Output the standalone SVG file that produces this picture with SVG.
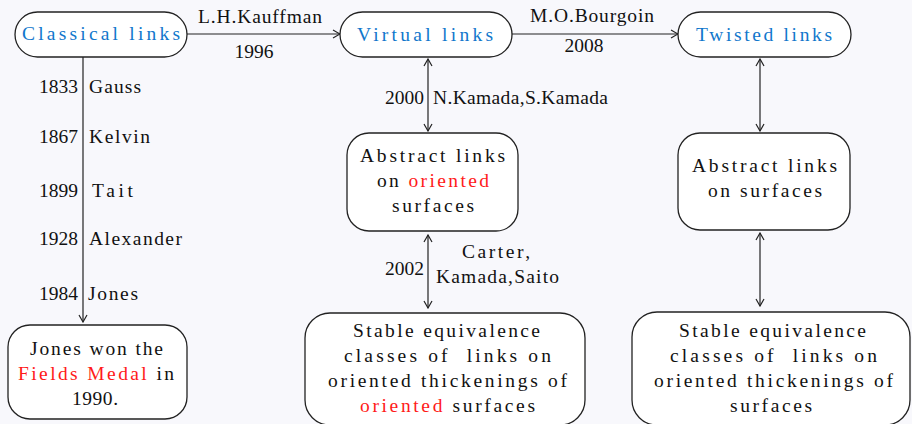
<svg xmlns="http://www.w3.org/2000/svg" width="912" height="424" viewBox="0 0 912 424">
<style>
text{font-family:"Liberation Serif","DejaVu Serif",serif;font-size:19.5px;fill:#111;white-space:pre}
.c{text-anchor:middle}
.r{text-anchor:end}
.blue{fill:#1177cc}
.red{fill:#ff1a1a}
.box{fill:#ffffff;stroke:#222;stroke-width:1.3}
.ln{stroke:#222;stroke-width:1.2;fill:none}
</style>
<defs>
<marker id="ah" viewBox="0 0 10 10" refX="9" refY="5" markerWidth="10" markerHeight="10" markerUnits="userSpaceOnUse" orient="auto-start-reverse">
<path d="M2,1 L9,5 L2,9" fill="none" stroke="#222" stroke-width="1.2"/>
</marker>
</defs>
<rect width="912" height="424" fill="#f8f8fc"/>
<g id="connectors">
<line class="ln" x1="187" y1="34" x2="340" y2="34" marker-end="url(#ah)"/>
<line class="ln" x1="512" y1="34" x2="678" y2="34" marker-end="url(#ah)"/>
<line class="ln" x1="83" y1="57" x2="83" y2="322" marker-end="url(#ah)"/>
<line class="ln" x1="428" y1="59" x2="428" y2="131" marker-start="url(#ah)" marker-end="url(#ah)"/>
<line class="ln" x1="428" y1="235" x2="428" y2="308" marker-start="url(#ah)" marker-end="url(#ah)"/>
<line class="ln" x1="760" y1="59" x2="760" y2="131" marker-start="url(#ah)" marker-end="url(#ah)"/>
<line class="ln" x1="760" y1="233" x2="760" y2="306" marker-start="url(#ah)" marker-end="url(#ah)"/>
<text x="198" y="23" textLength="124" lengthAdjust="spacing">L.H.Kauffman</text>
<text class="c" x="254" y="58">1996</text>
<text x="530" y="22" textLength="124" lengthAdjust="spacing">M.O.Bourgoin</text>
<text class="c" x="584" y="52">2008</text>
<text class="r" x="78" y="93">1833</text><text x="89" y="93" textLength="52" lengthAdjust="spacing">Gauss</text>
<text class="r" x="78" y="143">1867</text><text x="89" y="143" textLength="61" lengthAdjust="spacing">Kelvin</text>
<text class="r" x="78" y="197">1899</text><text x="92" y="197" textLength="41" lengthAdjust="spacing">Tait</text>
<text class="r" x="78" y="245">1928</text><text x="89" y="245" textLength="93" lengthAdjust="spacing">Alexander</text>
<text class="r" x="78" y="300">1984</text><text x="88" y="300" textLength="50" lengthAdjust="spacing">Jones</text>
<text class="r" x="424" y="104">2000</text><text x="433" y="104" textLength="175" lengthAdjust="spacing">N.Kamada,S.Kamada</text>
<text class="r" x="424" y="275">2002</text>
<text x="462" y="258" textLength="68" lengthAdjust="spacing">Carter,</text>
<text x="436" y="283" textLength="123" lengthAdjust="spacing">Kamada,Saito</text>
</g>
<g id="classical">
<rect class="box" x="15" y="12" width="172" height="45" rx="22.5"/>
<text class="blue" x="22" y="40" textLength="158" lengthAdjust="spacing">Classical links</text>
</g>
<g id="virtual">
<rect class="box" x="340" y="12" width="172" height="45" rx="22.5"/>
<text class="blue" x="357" y="41" textLength="136" lengthAdjust="spacing">Virtual links</text>
</g>
<g id="twisted">
<rect class="box" x="678" y="12" width="173" height="45" rx="22.5"/>
<text class="blue" x="696" y="41" textLength="136" lengthAdjust="spacing">Twisted links</text>
</g>
<g id="jones">
<rect class="box" x="8" y="325" width="179" height="94" rx="22"/>
<text x="30" y="355" textLength="133" lengthAdjust="spacing">Jones won the</text>
<text x="18" y="380" textLength="156" lengthAdjust="spacing"><tspan class="red">Fields Medal</tspan> in</text>
<text x="72" y="405" textLength="46" lengthAdjust="spacing">1990.</text>
</g>
<g id="abstract-oriented">
<rect class="box" x="347" y="133" width="171" height="98" rx="22"/>
<text x="360" y="162" textLength="145" lengthAdjust="spacing">Abstract links</text>
<text x="377" y="187" textLength="112" lengthAdjust="spacing">on <tspan class="red">oriented</tspan></text>
<text x="392" y="212" textLength="82" lengthAdjust="spacing">surfaces</text>
</g>
<g id="abstract">
<rect class="box" x="678" y="133" width="172" height="97" rx="22"/>
<text x="692" y="172" textLength="145" lengthAdjust="spacing">Abstract links</text>
<text x="708" y="197" textLength="114" lengthAdjust="spacing">on surfaces</text>
</g>
<g id="stable-oriented">
<rect class="box" x="305" y="313" width="280" height="112" rx="25"/>
<text x="353" y="337" textLength="187" lengthAdjust="spacing">Stable equivalence</text>
<text x="344" y="362" textLength="207" lengthAdjust="spacing">classes of  links on</text>
<text x="328" y="387" textLength="239" lengthAdjust="spacing">oriented thickenings of</text>
<text x="360" y="412" textLength="175" lengthAdjust="spacing"><tspan class="red">oriented</tspan> surfaces</text>
</g>
<g id="stable">
<rect class="box" x="632" y="312" width="278" height="113" rx="25"/>
<text x="679" y="337" textLength="187" lengthAdjust="spacing">Stable equivalence</text>
<text x="670" y="362" textLength="207" lengthAdjust="spacing">classes of  links on</text>
<text x="654" y="387" textLength="239" lengthAdjust="spacing">oriented thickenings of</text>
<text x="730" y="412" textLength="82" lengthAdjust="spacing">surfaces</text>
</g>
</svg>
